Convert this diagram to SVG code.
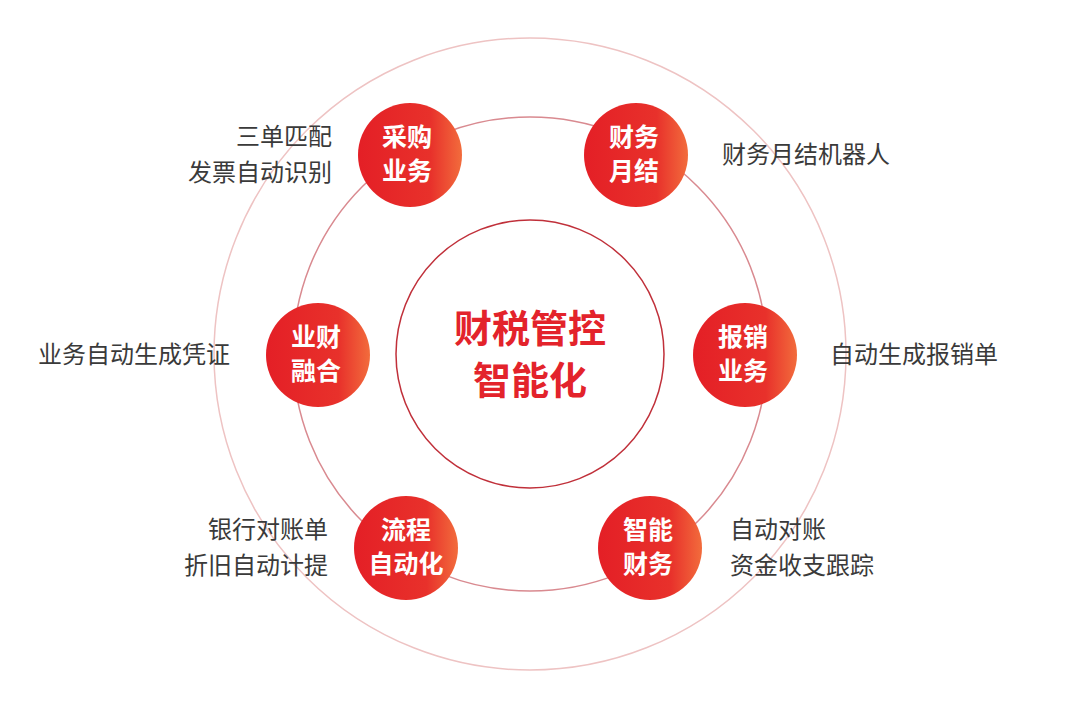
<svg xmlns="http://www.w3.org/2000/svg" width="1071" height="705" viewBox="0 0 1071 705">
<style>
.n{font:bold 25px "Noto Sans CJK SC",sans-serif;fill:#fff;text-anchor:middle}
.l{font:24px "Noto Sans CJK SC",sans-serif;fill:#3a3a3a}
.c{font:bold 38px "Noto Sans CJK SC",sans-serif;fill:#e3232b;text-anchor:middle}
</style>
<defs>
<linearGradient id="g" x1="0" y1="0" x2="1" y2="0">
<stop offset="0" stop-color="#e41f26"/><stop offset="0.7" stop-color="#e8312b"/><stop offset="1" stop-color="#f26c3c"/>
</linearGradient>
</defs>
<rect width="1071" height="705" fill="#fff"/>
<g id="connectors" fill="none">
<circle cx="530" cy="354" r="316" stroke="#eec3c3" stroke-width="1.5"/>
<circle cx="530" cy="354" r="237" stroke="#d98a90" stroke-width="1.5"/>
<circle cx="530" cy="354" r="134" stroke="#c0303a" stroke-width="1.5"/>
</g>
<g id="center"><text class="c" x="530" y="342">财税管控</text><text class="c" x="530" y="394">智能化</text></g>
<g id="n1"><circle cx="410" cy="155" r="52" fill="url(#g)"/><text class="n" x="407" y="146">采购</text><text class="n" x="407" y="180">业务</text></g>
<g id="n2"><circle cx="636" cy="155" r="52" fill="url(#g)"/><text class="n" x="634" y="146">财务</text><text class="n" x="634" y="180">月结</text></g>
<g id="n3"><circle cx="318" cy="355" r="52" fill="url(#g)"/><text class="n" x="316" y="346">业财</text><text class="n" x="316" y="380">融合</text></g>
<g id="n4"><circle cx="745" cy="355" r="52" fill="url(#g)"/><text class="n" x="743" y="346">报销</text><text class="n" x="743" y="380">业务</text></g>
<g id="n5"><circle cx="406" cy="548" r="52" fill="url(#g)"/><text class="n" x="406" y="539">流程</text><text class="n" x="406" y="573">自动化</text></g>
<g id="n6"><circle cx="650" cy="548" r="52" fill="url(#g)"/><text class="n" x="648" y="539">智能</text><text class="n" x="648" y="573">财务</text></g>
<g id="labels">
<text class="l" x="332" y="145" text-anchor="end">三单匹配</text>
<text class="l" x="332" y="181" text-anchor="end">发票自动识别</text>
<text class="l" x="722" y="163">财务月结机器人</text>
<text class="l" x="230" y="363" text-anchor="end">业务自动生成凭证</text>
<text class="l" x="830" y="363">自动生成报销单</text>
<text class="l" x="328" y="538" text-anchor="end">银行对账单</text>
<text class="l" x="328" y="574" text-anchor="end">折旧自动计提</text>
<text class="l" x="730" y="538">自动对账</text>
<text class="l" x="730" y="574">资金收支跟踪</text>
</g>
</svg>
